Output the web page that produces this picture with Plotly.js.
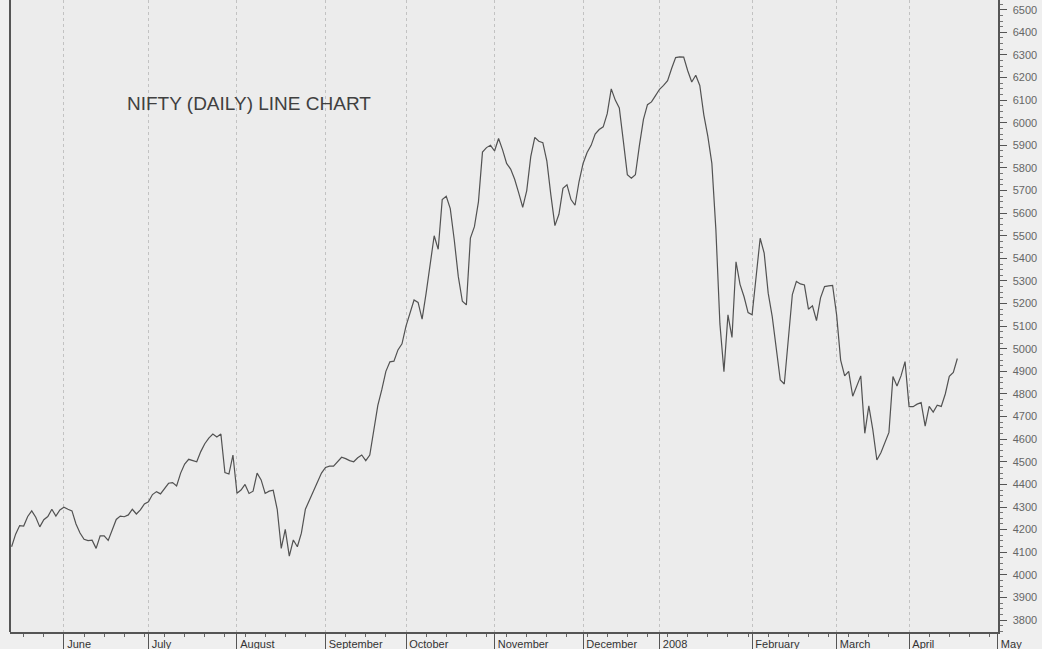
<!DOCTYPE html>
<html>
<head>
<meta charset="utf-8">
<script src="https://cdn.plot.ly/plotly-3.0.1.min.js"></script>
<style>
  html, body { margin: 0; padding: 0; background: #efefef; }
  #chart { width: 1042px; height: 649px; }
</style>
</head>
<body>
<div id="chart"></div>
<script>
// Month labels on the trading-day axis and the trading-day index where each month starts
const monthLabels = ["June", "July", "August", "September", "October", "November",
                     "December", "2008", "February", "March", "April", "May"];
const monthStartDay = [13, 34, 56, 78, 98, 120, 142, 161, 184, 205, 223, 245];

// NIFTY daily closes, one value per trading day, mid-May 2007 to mid-April 2008
const niftyClose = [
  4124, 4180, 4218, 4216, 4258, 4283, 4255, 4212, 4244, 4258,
  4290, 4260, 4287, 4299, 4290, 4283, 4225, 4185, 4157, 4151,
  4153, 4117, 4172, 4172, 4152, 4195, 4245, 4260, 4257, 4265,
  4290, 4269, 4287, 4314, 4323, 4355, 4368, 4358, 4380, 4405,
  4408, 4393, 4450, 4490, 4511, 4505, 4500, 4545, 4580, 4605,
  4623, 4610, 4623, 4452, 4446, 4530, 4361, 4375, 4400, 4360,
  4370, 4450, 4420, 4360, 4370, 4374, 4290, 4117, 4201, 4083,
  4154, 4124, 4184, 4290, 4331, 4370, 4410, 4450, 4475, 4481,
  4481, 4500, 4520, 4514, 4505, 4500, 4518, 4530, 4505, 4530,
  4648, 4750, 4820, 4900, 4942, 4945, 4995, 5022, 5100, 5160,
  5216, 5205, 5131, 5246, 5380, 5500, 5440, 5660, 5675, 5620,
  5480, 5319, 5210, 5194, 5490, 5540, 5650, 5870, 5890, 5900,
  5875, 5930, 5880, 5820, 5795, 5750, 5690, 5626, 5700, 5850,
  5935, 5918, 5912, 5830, 5680, 5545, 5595, 5710, 5725, 5660,
  5635, 5740, 5820, 5868, 5900, 5950, 5970, 5982, 6040, 6150,
  6100, 6065, 5920, 5770, 5755, 5770, 5900, 6015, 6080, 6092,
  6120, 6148, 6165, 6186, 6240, 6288, 6291, 6290, 6230, 6180,
  6210, 6165, 6035, 5940, 5820, 5526, 5110, 4899, 5150, 5050,
  5385, 5285, 5230, 5160, 5150, 5330, 5489, 5423, 5246, 5142,
  5000, 4862, 4844, 5060, 5240, 5298, 5287, 5282, 5175, 5190,
  5125, 5225, 5275, 5278, 5280, 5150, 4950, 4880, 4900, 4790,
  4835, 4880, 4626, 4747, 4641, 4508, 4540, 4582, 4630, 4877,
  4835, 4880, 4943, 4744, 4744, 4755, 4762, 4658, 4745, 4720,
  4750, 4745, 4800, 4878, 4895, 4957
];
const tradingDay = niftyClose.map((_, i) => i);

const chartTitle = "NIFTY (DAILY) LINE CHART";
const FONT = "Liberation Sans, Arial, sans-serif";

const trace = {
  type: "scatter",
  mode: "lines",
  x: tradingDay,
  y: niftyClose,
  line: { color: "#525252", width: 1.2 },
  hoverinfo: "skip",
  showlegend: false
};

const layout = {
  width: 1042,
  height: 649,
  margin: { l: 10, r: 44, t: 0, b: 17, pad: 0 },
  paper_bgcolor: "#efefef",
  plot_bgcolor: "#ececec",
  font: { family: FONT, color: "#444" },
  title: {
    text: chartTitle,
    xref: "container", yref: "container",
    x: 127 / 1042, xanchor: "left",
    y: 1 - 103 / 649, yanchor: "middle",
    font: { family: FONT, size: 19, color: "#404040" }
  },
  xaxis: {
    range: [-0.4, 245.1],
    tickmode: "array",
    tickvals: monthStartDay,
    ticktext: monthLabels,
    ticks: "outside",
    ticklen: 17,
    tickwidth: 1,
    tickcolor: "#555",
    ticklabelposition: "outside right",
    ticklabelstandoff: 1,
    ticklabelshift: 2,
    tickfont: { family: FONT, size: 11, color: "#333" },
    showgrid: true,
    gridcolor: "#c2c2c2",
    griddash: "dot",
    gridwidth: 1,
    showline: true,
    linecolor: "#555",
    linewidth: 1.5,
    zeroline: false,
    minor: {
      tickmode: "linear",
      tick0: 13,
      dtick: 5,
      ticks: "outside",
      ticklen: 3,
      tickcolor: "#666",
      showgrid: false
    },
    fixedrange: true
  },
  yaxis: {
    side: "right",
    range: [3747, 6543],
    tickmode: "linear",
    tick0: 0,
    dtick: 100,
    ticks: "outside",
    ticklen: 7,
    tickwidth: 1,
    tickcolor: "#555",
    ticklabelstandoff: 4,
    tickfont: { family: FONT, size: 11, color: "#666" },
    showgrid: false,
    showline: true,
    linecolor: "#555",
    linewidth: 1.5,
    zeroline: false,
    minor: {
      tickmode: "linear",
      tick0: 0,
      dtick: 25,
      ticks: "outside",
      ticklen: 3,
      tickcolor: "#777",
      showgrid: false
    },
    fixedrange: true
  },
  shapes: [
    { type: "line", xref: "paper", yref: "paper", x0: 0, x1: 0, y0: 0, y1: 1,
      line: { color: "#555", width: 2 } }
  ]
};

Plotly.newPlot("chart", [trace], layout, { staticPlot: true, displayModeBar: false });
</script>
</body>
</html>
